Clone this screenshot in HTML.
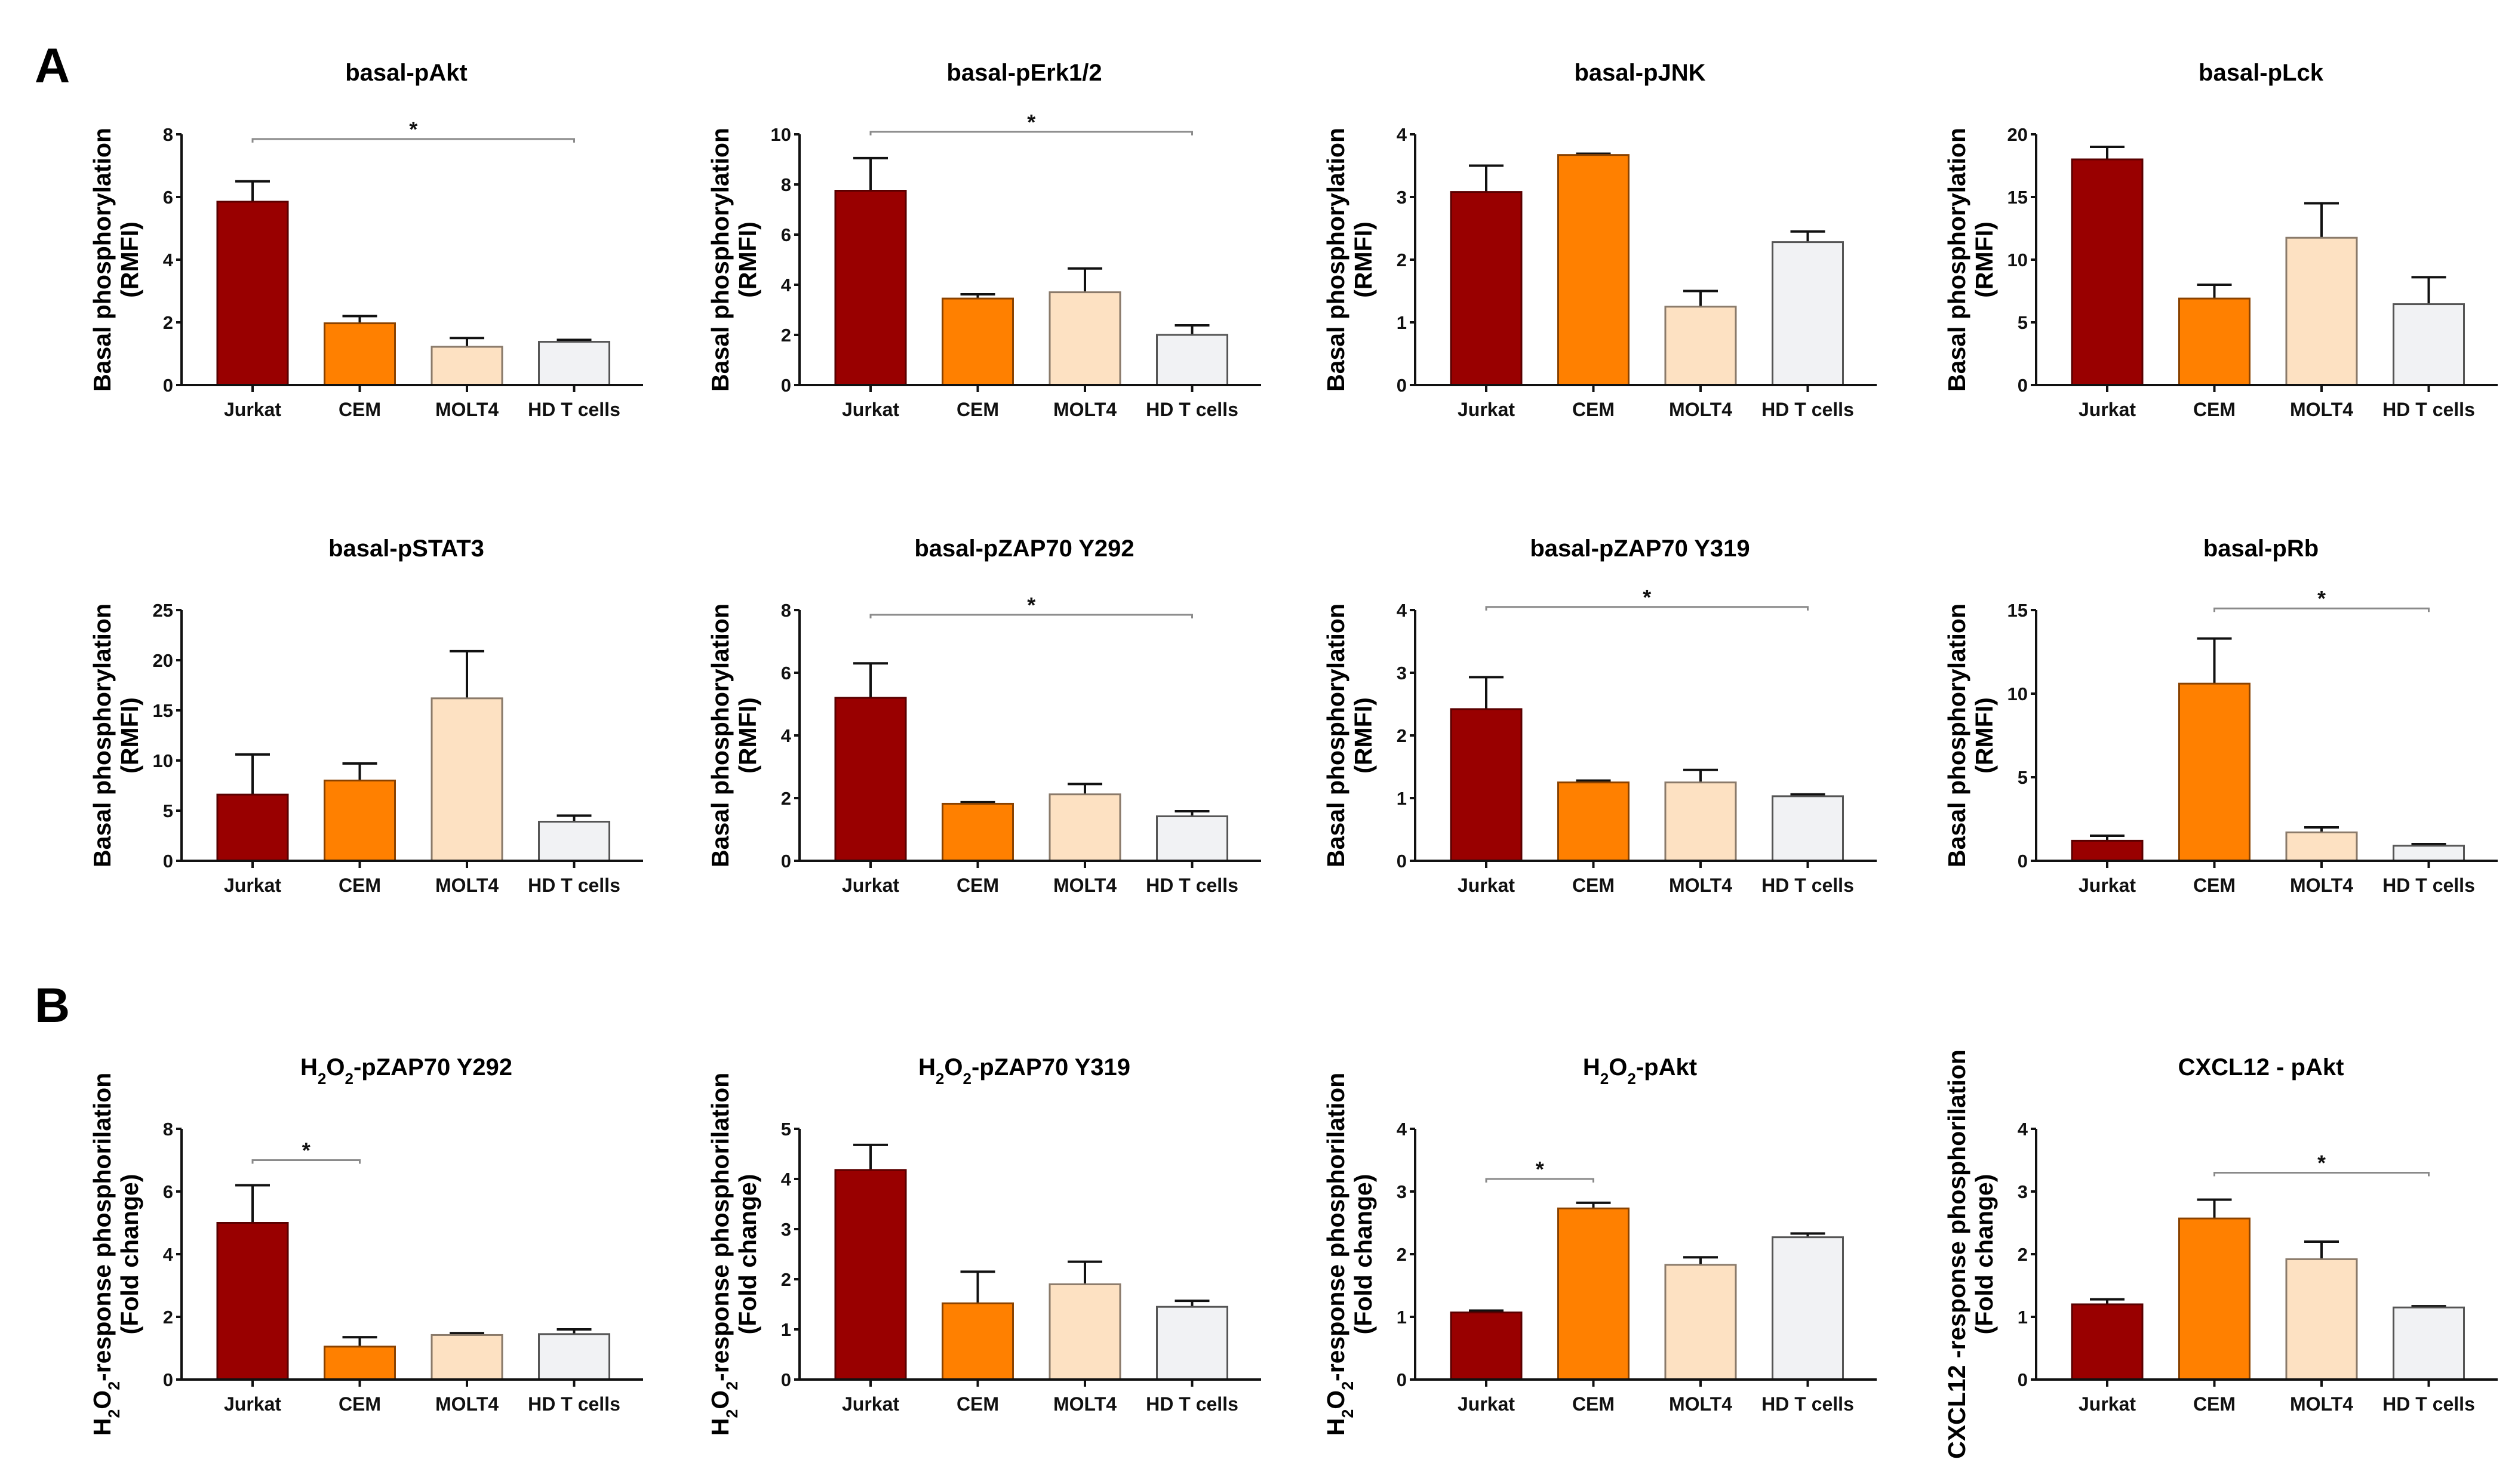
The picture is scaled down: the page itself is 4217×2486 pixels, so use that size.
<!DOCTYPE html>
<html><head><meta charset="utf-8">
<style>
html,body{margin:0;padding:0;background:#fff;}
svg{display:block;font-family:"Liberation Sans",Arial,sans-serif;}
</style></head>
<body>
<svg id="fig" width="4217" height="2486" viewBox="0 0 4217 2486" xmlns="http://www.w3.org/2000/svg">
<rect width="4217" height="2486" fill="#fff"/>
<text x="58" y="138" font-size="82" font-weight="bold">A</text>
<text x="58" y="1712" font-size="82" font-weight="bold">B</text>
</svg>
<script>
const categories = ["Jurkat","CEM","MOLT4","HD T cells"];
const titles = ["basal-pAkt","basal-pErk1/2","basal-pJNK","basal-pLck","basal-pSTAT3","basal-pZAP70 Y292","basal-pZAP70 Y319","basal-pRb","H2O2-pZAP70 Y292","H2O2-pZAP70 Y319","H2O2-pAkt","CXCL12  - pAkt"];
const yMax = [8,10,4,20,25,8,4,15,8,5,4,4];
const yStep = [2,2,1,5,5,2,1,5,2,1,1,1];
const means = [
 [5.85,1.97,1.22,1.38],
 [7.75,3.45,3.7,2.0],
 [3.08,3.67,1.25,2.28],
 [18.0,6.9,11.75,6.45],
 [6.6,8.0,16.2,3.9],
 [5.2,1.82,2.12,1.42],
 [2.42,1.25,1.25,1.03],
 [1.2,10.6,1.7,0.9],
 [5.0,1.05,1.42,1.45],
 [4.18,1.52,1.9,1.45],
 [1.07,2.73,1.83,2.27],
 [1.2,2.57,1.92,1.15]
];
const errTops = [
 [6.5,2.2,1.5,1.44],
 [9.05,3.62,4.65,2.38],
 [3.5,3.69,1.5,2.45],
 [19.0,8.0,14.5,8.6],
 [10.6,9.7,20.9,4.5],
 [6.3,1.87,2.45,1.58],
 [2.93,1.28,1.45,1.06],
 [1.5,13.3,2.0,1.0],
 [6.2,1.35,1.48,1.6],
 [4.68,2.15,2.35,1.57],
 [1.1,2.82,1.95,2.33],
 [1.28,2.87,2.2,1.17]
];
// significance brackets: [fromIndex, toIndex, value] or null
const sigs = [[0,3,7.85],[0,3,10.1],null,null,null,[0,3,7.85],[0,3,4.05],[1,3,15.1],[0,1,7.0],null,[0,1,3.2],[1,3,3.3]];
const fills = ["#990000","#ff8000","#fde1c2","#f1f2f4"];
const strokes = ["#5a0000","#8a4200","#8a7a6a","#555555"];

const NS="http://www.w3.org/2000/svg";
const svg=document.getElementById('fig');
const colX=[304,1339,2370,3410];
const rowZero=[645,1442,2311];
const H=420, AXW=773, BOFF=60, BW=118, PITCH=179.5;

function mk(tag,attrs,parent){const e=document.createElementNS(NS,tag);for(const k in attrs)e.setAttribute(k,attrs[k]);(parent||svg).appendChild(e);return e;}
function addSubText(el,str,fs){
  const parts=str.split(/(H2O2)/);
  parts.forEach(p=>{
    if(p==="H2O2"){
      [["H",0],["2",1],["O",0],["2",1]].forEach(([t,sub])=>{
        const ts=document.createElementNS(NS,'tspan');
        if(sub){ts.setAttribute('font-size',fs*0.65);ts.setAttribute('baseline-shift','sub');}
        ts.textContent=t;el.appendChild(ts);
      });
    } else if(p.length){const ts=document.createElementNS(NS,'tspan');ts.textContent=p;el.appendChild(ts);}
  });
}

for(let i=0;i<12;i++){
  const r=Math.floor(i/4), c=i%4;
  const x0=colX[c], y0=rowZero[r];
  const g=mk('g',{});
  
  
  const ys=v=>y0-v/yMax[i]*H;
  const xc=k=>x0+BOFF+BW/2+k*PITCH;
  const t=mk('text',{x:x0+AXW/2-10,y:y0-510,'font-size':40,'font-weight':'bold','text-anchor':'middle'},g);
  
  
  addSubText(t,titles[i],40);
  const l1 = r<2?"Basal phosphorylation":(c===3?"CXCL12 -response phosphorilation":"H2O2-response phosphorilation");
  const l2 = r<2?"(RMFI)":"(Fold change)";
  const cy=y0-H/2;
  const a1=mk('text',{x:0,y:0,'font-size':41,'font-weight':'bold','text-anchor':'middle',transform:`translate(${x0-119},${cy}) rotate(-90)`},g);
  
  
  addSubText(a1,l1,41);
  const a2=mk('text',{x:0,y:0,'font-size':41,'font-weight':'bold','text-anchor':'middle',transform:`translate(${x0-73},${cy}) rotate(-90)`},g);
  
  
  a2.textContent=l2;
  for(let k=0;k<4;k++){
    const v=means[i][k], e=errTops[i][k], cx=xc(k);
    const eb=mk('path',{d:`M${cx} ${ys(v)} V${ys(e)} M${cx-29} ${ys(e)} H${cx+29}`,stroke:'#111','stroke-width':4,fill:'none'},g);
    
    
    const b=mk('rect',{x:cx-BW/2,y:ys(v),width:BW,height:y0-ys(v),fill:fills[k],stroke:strokes[k],'stroke-width':3},g);
    
    
    const tk=mk('line',{x1:cx,x2:cx,y1:y0,y2:y0+12,stroke:'#111','stroke-width':4},g);
    
    
    const lb=mk('text',{x:cx,y:y0+52,'font-size':32,'font-weight':'bold','text-anchor':'middle',fill:'#111'},g);
    
    
    lb.textContent=categories[k];
  }
  const ax=mk('path',{d:`M${x0} ${y0-H} V${y0} M${x0-8} ${y0} H${x0+AXW}`,stroke:'#111','stroke-width':4,fill:'none'},g);
  
  
  for(let v=0;v<=yMax[i]+1e-9;v+=yStep[i]){
    const yt=mk('line',{x1:x0-9,x2:x0,y1:ys(v),y2:ys(v),stroke:'#111','stroke-width':4},g);
    
    
    const tl=mk('text',{x:x0-14,y:ys(v)+11,'font-size':31,'font-weight':'bold','text-anchor':'end',fill:'#111'},g);
    
    
    tl.textContent=String(v);
  }
  const s=sigs[i];
  if(s){
    const by=ys(s[2]), xa=xc(s[0]), xb=xc(s[1]);
    const br=mk('path',{d:`M${xa} ${by+6} V${by} H${xb} V${by+6}`,stroke:'#8a8a8a','stroke-width':3,fill:'none'},g);
    
    
    const st=mk('text',{x:(xa+xb)/2,y:by-4,'font-size':36,'font-weight':'bold','text-anchor':'middle',fill:'#111'},g);
    
    
    st.textContent='*';
  }
}
</script>
</body></html>
